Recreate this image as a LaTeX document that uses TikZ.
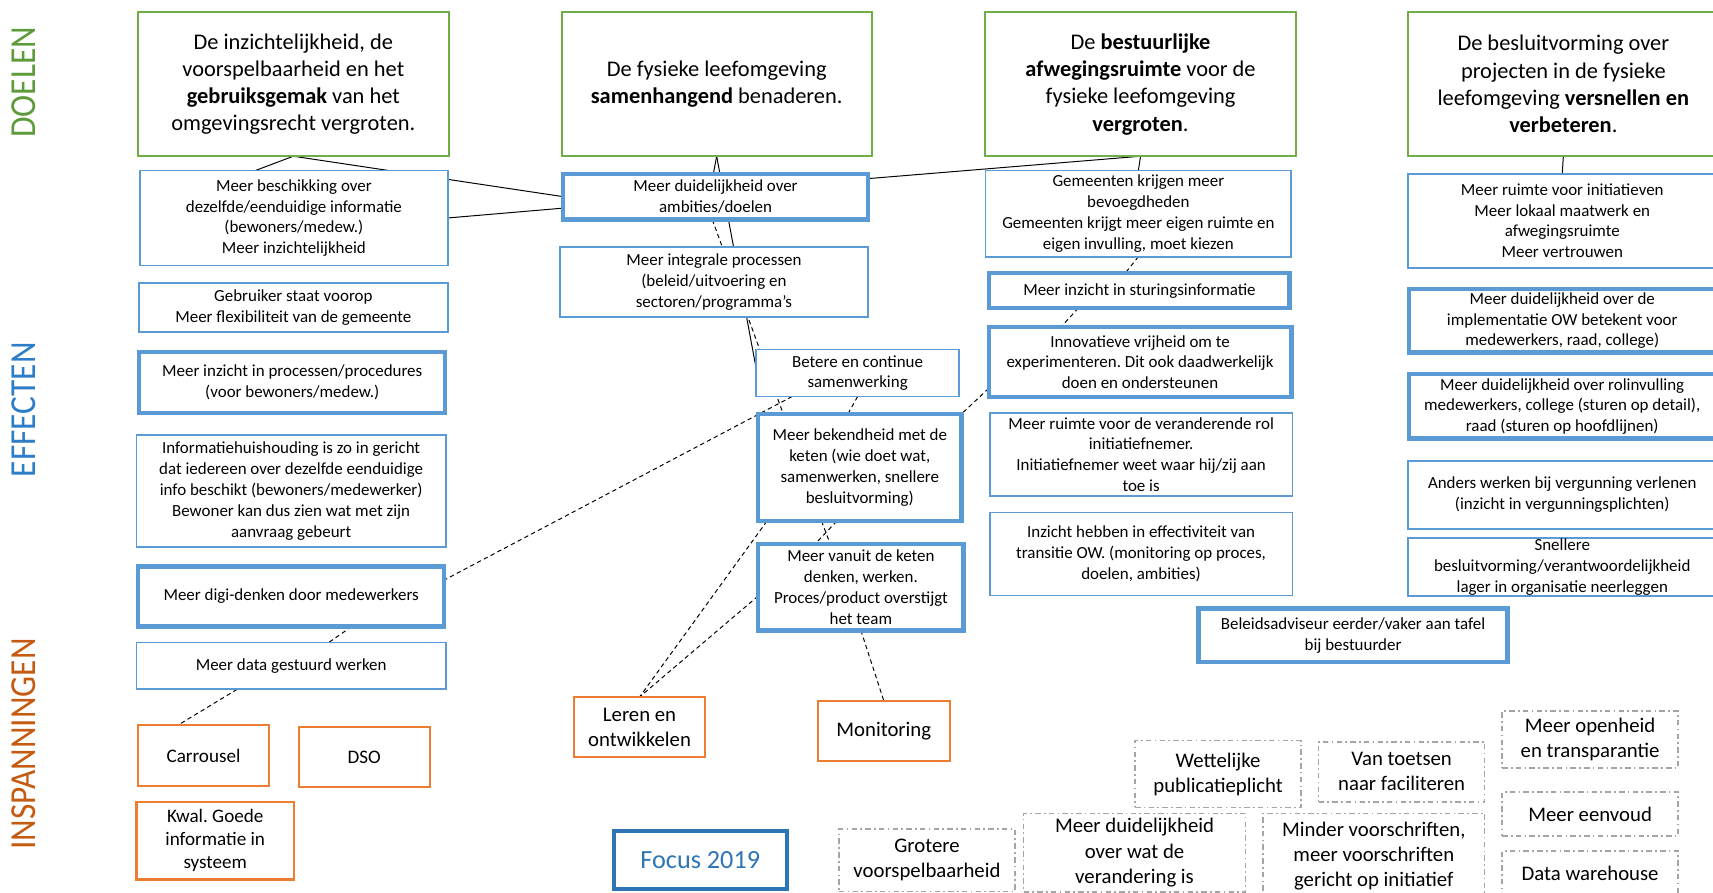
\documentclass[tikz,border=0pt]{standalone}
\usepackage{fontspec}
\setmainfont{Carlito}
\usepackage{tikz}
\usetikzlibrary{positioning, calc, backgrounds}
\frenchspacing

\definecolor{goalgreen}{RGB}{112,173,71}
\definecolor{effblue}{RGB}{91,155,213}
\definecolor{effortorange}{RGB}{237,125,49}
\definecolor{wishgray}{RGB}{165,165,165}
\definecolor{focusblue}{RGB}{46,117,182}
\definecolor{doelcol}{RGB}{93,155,58}
\definecolor{effectcol}{RGB}{46,125,200}
\definecolor{inspcol}{RGB}{197,90,17}

\begin{document}
\begin{tikzpicture}[x=1pt, y=-1pt,
    every node/.style={inner sep=1pt, outer sep=0pt, align=center, fill=white},
    wh/.style 2 args={minimum width=#1pt, minimum height=#2pt},
    goal/.style={draw=goalgreen, line width=1.8pt, font=\fontsize{20.5}{25}\selectfont},
    effect/.style={draw=effblue, line width=1.6pt, font=\fontsize{15.5}{19}\selectfont},
    keyeffect/.style={effect, line width=4pt},
    effort/.style={draw=effortorange, line width=2pt, font=\fontsize{19}{23}\selectfont},
    wish/.style={draw=wishgray, line width=1.4pt, dash pattern=on 5pt off 3pt on 1.5pt off 3pt, font=\fontsize{19}{23}\selectfont},
    side/.style={rotate=90, fill=none, font=\fontsize{30.5}{31}\selectfont},
    link/.style={black, line width=0.9pt},
    dlink/.style={link, dash pattern=on 4pt off 3pt}
]
    \useasboundingbox (0,0) rectangle (1568,817);

    \node[side, text=doelcol] (ldoel) at (21.5,75.5) {\scalebox{1}[1.1]{DOELEN}};
    \node[side, text=effectcol] (leff) at (22,375) {\scalebox{1}[1.1]{EFFECTEN}};
    \node[side, text=inspcol] (linsp) at (22,681) {\scalebox{1}[1.1]{INSPANNINGEN}};

    \node[goal, wh={285}{132}] (g0a) at (268.5,77) {De inzichtelijkheid, de\\voorspelbaarheid en het\\\textbf{gebruiksgemak} van het\\omgevingsrecht vergroten.};
    \node[goal, wh={284}{132}] (g0b) at (656,77) {De fysieke leefomgeving\\\textbf{samenhangend} benaderen.};
    \node[goal, wh={284}{132}] (g0c) at (1044,77) {De \textbf{bestuurlijke}\\\textbf{afwegingsruimte} voor de\\fysieke leefomgeving\\\textbf{vergroten}.};
    \node[goal, wh={284}{132}] (g0d) at (1431,77) {De besluitvorming over\\projecten in de fysieke\\leefomgeving \textbf{versnellen en}\\\textbf{verbeteren}.};

    \node[effect, wh={282}{87}] (e1a) at (269,199.5) {Meer beschikking over\\dezelfde/eenduidige informatie\\(bewoners/medew.)\\Meer inzichtelijkheid};
    \node[effect, wh={283}{45}] (e2a) at (268.5,281.5) {Gebruiker staat voorop\\Meer flexibiliteit van de gemeente};
    \node[keyeffect, wh={280}{56}] (e3a) at (267.5,350) {Meer inzicht in processen/procedures\\(voor bewoners/medew.)};
    \node[effect, wh={283}{103}] (e4a) at (266.5,449.5) {Informatiehuishouding is zo in gericht\\dat iedereen over dezelfde eenduidige\\info beschikt (bewoners/medewerker)\\Bewoner kan dus zien wat met zijn\\aanvraag gebeurt};
    \node[keyeffect, wh={280}{55}] (e5a) at (266.5,546) {Meer digi-denken door medewerkers};
    \node[effect, wh={283}{43}] (e6a) at (266.5,609.5) {Meer data gestuurd werken};

    \node[keyeffect, wh={279}{42}] (e1b) at (655,180) {Meer duidelijkheid over\\ambities/doelen};
    \node[effect, wh={282}{64}] (e2b) at (653.5,258) {Meer integrale processen\\(beleid/uitvoering en\\sectoren/programma’s};
    \node[effect, wh={186}{43}] (e3b) at (785,341.5) {Betere en continue\\samenwerking};
    \node[keyeffect, wh={186}{98}] (e4b) at (787,428) {Meer bekendheid met de\\keten (wie doet wat,\\samenwerken, snellere\\besluitvorming)};
    \node[keyeffect, wh={188}{79}] (e5b) at (788,537.5) {Meer vanuit de keten\\denken, werken.\\Proces/product overstijgt\\het team};

    \node[effect, wh={280}{79}] (e1c) at (1042,195.5) {Gemeenten krijgen meer\\bevoegdheden\\Gemeenten krijgt meer eigen ruimte en\\eigen invulling, moet kiezen};
    \node[keyeffect, wh={275}{32}] (e2c) at (1043,266) {Meer inzicht in sturingsinformatie};
    \node[keyeffect, wh={277}{64}] (e3c) at (1043.5,331.5) {Innovatieve vrijheid om te\\experimenteren. Dit ook daadwerkelijk\\doen en ondersteunen};
    \node[effect, wh={277}{76}] (e4c) at (1044.5,416) {Meer ruimte voor de veranderende rol\\initiatiefnemer.\\Initiatiefnemer weet waar hij/zij aan\\toe is};
    \node[effect, wh={277}{76}] (e5c) at (1044.5,507) {Inzicht hebben in effectiviteit van\\transitie OW. (monitoring op proces,\\doelen, ambities)};
    \node[keyeffect, wh={283}{49}] (e6c) at (1238.5,581.5) {Beleidsadviseur eerder/vaker aan tafel\\bij bestuurder};

    \node[effect, wh={283}{86}] (e1d) at (1430,202) {Meer ruimte voor initiatieven\\Meer lokaal maatwerk en\\afwegingsruimte\\Meer vertrouwen};
    \node[keyeffect, wh={280}{58}] (e2d) at (1430,293.5) {Meer duidelijkheid over de\\implementatie OW betekent voor\\medewerkers, raad, college)};
    \node[keyeffect, wh={280}{59}] (e3d) at (1430,372) {Meer duidelijkheid over rolinvulling\\medewerkers, college (sturen op detail),\\raad (sturen op hoofdlijnen)};
    \node[effect, wh={283}{62}] (e4d) at (1430,453) {Anders werken bij vergunning verlenen\\(inzicht in vergunningsplichten)};
    \node[effect, wh={283}{53}] (e5d) at (1430,519) {Snellere\\besluitvorming/verantwoordelijkheid\\lager in organisatie neerleggen};

    \node[effort, wh={120}{56}, font=\fontsize{17.5}{21}\selectfont] (i1a) at (186.3,691.5) {Carrousel};
    \node[effort, wh={120}{55}, font=\fontsize{17.5}{21}\selectfont] (i2a) at (333.4,693) {DSO};
    \node[effort, wh={144}{71}, font=\fontsize{17.5}{21}\selectfont] (i3a) at (197,769.5) {Kwal. Goede\\informatie in\\systeem};
    \node[effort, wh={120}{55}] (i1b) at (585.4,665.5) {Leren en\\ontwikkelen};
    \node[effort, wh={121}{55}] (i2b) at (809,669) {Monitoring};

    \node[draw=focusblue, line width=3.5pt, text=focusblue, wh={158}{53}, font=\fontsize{24}{28}\selectfont] (focus) at (641,787) {Focus 2019};

    \node[wish, wh={152}{61}] (w1) at (1115,708.5) {Wettelijke\\publicatieplicht};
    \node[wish, wh={152}{55}] (w2) at (1283,706.5) {Van toetsen\\naar faciliteren};
    \node[wish, wh={161}{52}] (w3) at (1455.5,677) {Meer openheid\\en transparantie};
    \node[wish, wh={161}{40}] (w4) at (1455.5,745) {Meer eenvoud};
    \node[wish, wh={161}{40}] (w5) at (1455.5,799) {Data warehouse};
    \node[wish, wh={161}{57}] (w6) at (848.5,787.5) {Grotere\\voorspelbaarheid};
    \node[wish, wh={203}{72}] (w7) at (1038.5,780.5) {Meer duidelijkheid\\over wat de\\verandering is};
    \node[wish, wh={203}{78}] (w8) at (1257.5,783.5) {Minder voorschriften,\\meer voorschriften\\gericht op initiatief};

    \begin{scope}[on background layer]
    \fill[white] (0,0) rectangle (1568,817);
    \path[link]
        (g0a.south) edge (e1b.west)
        (g0a.south) edge ($(e1a.north)+(-35,0)$)
        (e1a.east) edge ($(e1b.west)+(0,10.5)$)

        (g0b.south) edge ($(e1b.north)+(-2,0)$)
        (g0b.south) edge ($(e3b.west)+(0,-5)$)

        (g0c.south) edge (e1c.north)
        (g0c.south) edge ($(e1b.east)+(0,-16.5)$)

        (g0d.south) edge (e1d.north)
    ;
    \path[dlink]
        ($(e1b.south)+(-3,0)$) edge ($(e4b.north)+(-70,0)$)
        (e3b.south) edge ($(e4b.north)+(-11,0)$)
        ($(e3c.south west)+(0,-8)$) edge (e4b.north east)
        ($(e3b.south)+(-60,0)$) edge ($(e5a.east)+(0,-15)$)

        (e1c.south) edge ($(e2c.north)+(-13,0)$)
        ($(e2c.south)+(-56,0)$) edge ($(e3c.north)+(-72.5,0)$)

        ($(e4b.south west)+(8,0)$) edge (i1b.north)
        ($(e5b.west)+(0,8)$) edge (i1b.north)
        ($(e4b.south)+(-35,0)$) edge ($(e5b.north)+(-28,0)$)
        ($(e4b.south)+(-21,0)$) edge ($(e5b.north)+(-42,0)$)
        (e5b.south) edge (i2b.north)

        ($(e5a.south)+(55.5,0)$) edge ($(e6a.north)+(34.5,0)$)
        ($(e6a.south)+(-49.5,0)$) edge ($(i1a.north)+(-23,0)$)
    ;
    \end{scope}

\end{tikzpicture}
\end{document}
